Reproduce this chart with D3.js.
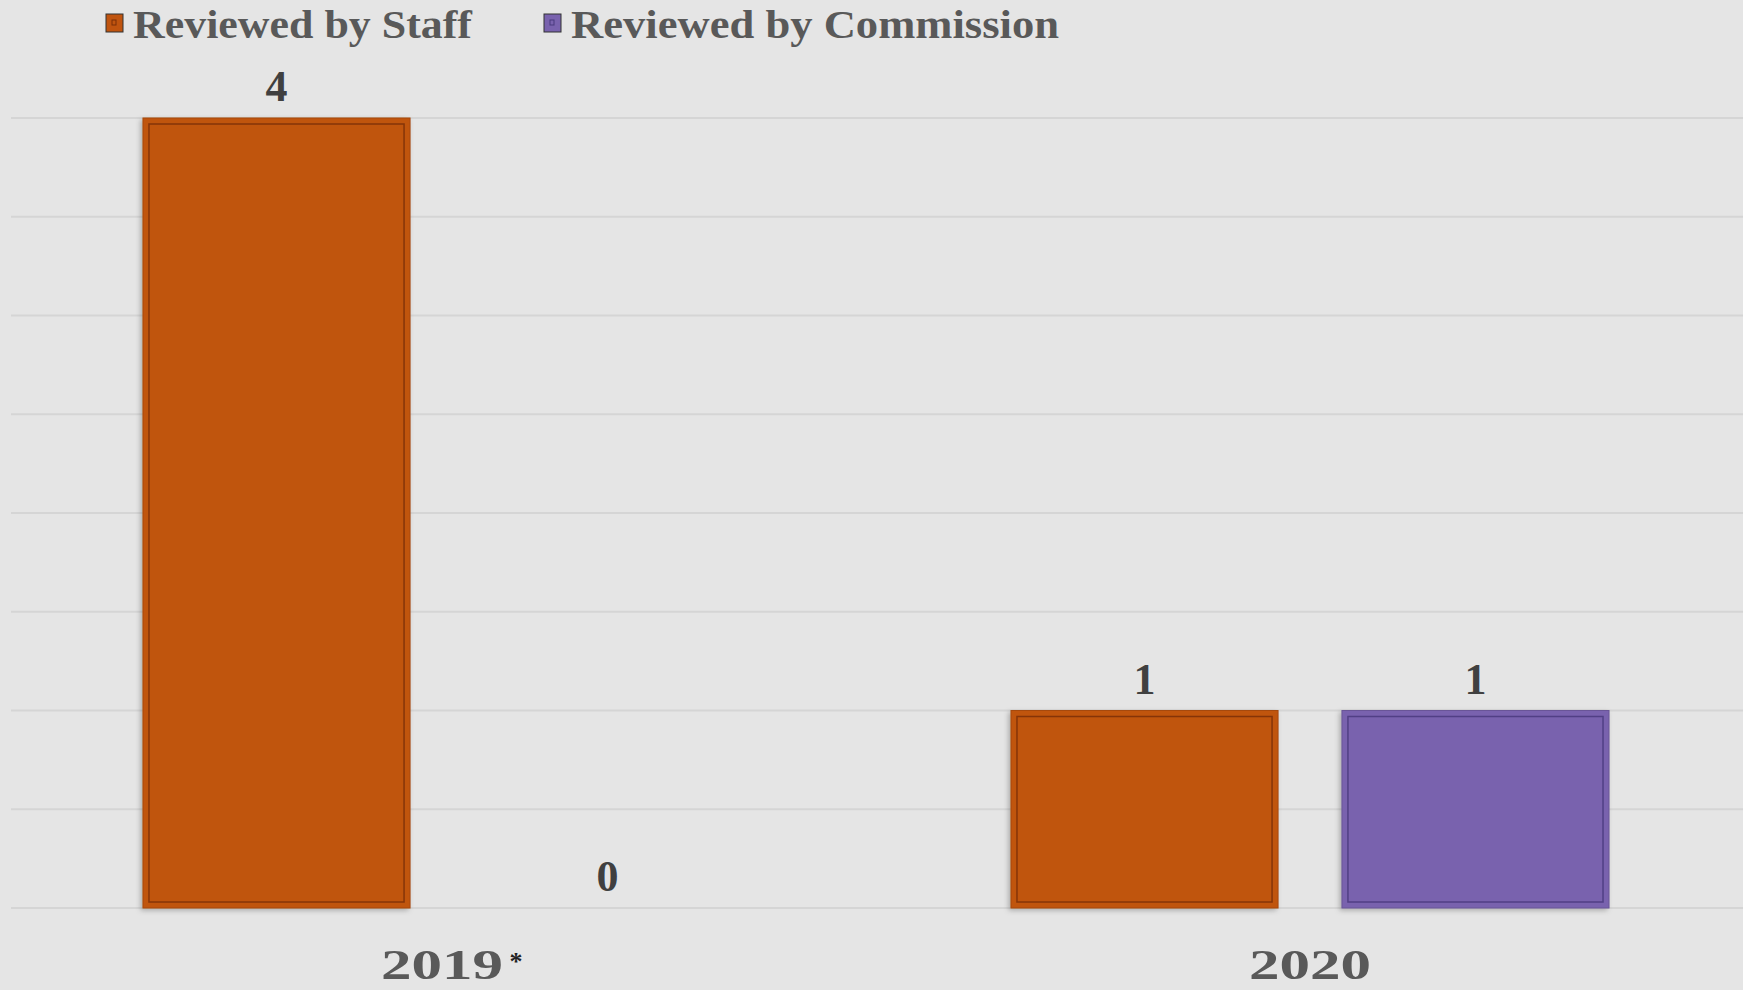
<!DOCTYPE html>
<html>
<head>
<meta charset="utf-8">
<script src="https://cdn.jsdelivr.net/npm/d3@7"></script>
<style>
  html, body { margin: 0; padding: 0; background: #E5E5E5; }
  svg { display: block; }
</style>
</head>
<body>
<svg id="chart" width="1743" height="990"></svg>
<script>
// ---- data ----
const categories = ["2019", "2020"];
const seriesNames = ["Reviewed by Staff", "Reviewed by Commission"];
const staffValues = [4, 1];
const commissionValues = [0, 1];
const yTicks = [0, 0.5, 1, 1.5, 2, 2.5, 3, 3.5, 4];
const categoryNotes = ["*", ""];

const colors = { "Reviewed by Staff": "#C0540F", "Reviewed by Commission": "#7962AE" };
const innerStroke = { "Reviewed by Staff": "#7A2F08", "Reviewed by Commission": "#4A3A7E" };

const W = 1743, H = 990;
const svg = d3.select("#chart");
svg.append("rect").attr("width", W).attr("height", H).attr("fill", "#E5E5E5");

const defs = svg.append("defs");
const f = defs.append("filter").attr("id", "shadow").attr("x", "-10%").attr("y", "-10%").attr("width", "120%").attr("height", "120%");
f.append("feDropShadow").attr("dx", -2).attr("dy", 2).attr("stdDeviation", 2.5).attr("flood-color", "#000").attr("flood-opacity", 0.25);

const plotLeft = 8, plotRight = 1744, plotTop = 118, plotBottom = 908;

const x0 = d3.scaleBand().domain(categories).range([plotLeft, plotRight]).paddingInner(0.311).paddingOuter(0.1555);
const x1 = d3.scaleBand().domain(seriesNames).range([0, x0.bandwidth()]).paddingInner(0.193).paddingOuter(0);
const y = d3.scaleLinear().domain([0, 4]).range([plotBottom, plotTop]);

// gridlines
svg.append("g").selectAll("line").data(yTicks).join("line")
  .attr("x1", 11).attr("x2", W)
  .attr("y1", d => y(d)).attr("y2", d => y(d))
  .attr("stroke", "#D5D5D5").attr("stroke-width", 2);

const rows = categories.map((c, i) => ({
  cat: c,
  vals: [
    { s: seriesNames[0], v: staffValues[i] },
    { s: seriesNames[1], v: commissionValues[i] }
  ]
}));

const g = svg.append("g").selectAll("g").data(rows).join("g")
  .attr("transform", d => `translate(${x0(d.cat)},0)`);

const bars = g.selectAll("g.bar").data(d => d.vals.filter(v => v.v > 0)).join("g").attr("class", "bar");
bars.append("rect")
  .attr("x", d => x1(d.s)).attr("y", d => y(d.v))
  .attr("width", x1.bandwidth()).attr("height", d => y(0) - y(d.v))
  .attr("fill", d => colors[d.s])
  .attr("stroke", d => d3.color(colors[d.s]).darker(0.4))
  .attr("stroke-width", 1)
  .attr("filter", "url(#shadow)");
bars.append("rect")
  .attr("x", d => x1(d.s) + 6).attr("y", d => y(d.v) + 6)
  .attr("width", x1.bandwidth() - 12).attr("height", d => y(0) - y(d.v) - 12)
  .attr("fill", "none")
  .attr("stroke", d => innerStroke[d.s]).attr("stroke-width", 1.5).attr("stroke-opacity", 0.85);

// data labels
g.selectAll("text.lbl").data(d => d.vals).join("text").attr("class", "lbl")
  .attr("x", d => x1(d.s) + x1.bandwidth() / 2)
  .attr("y", d => y(d.v) - 17)
  .attr("text-anchor", "middle")
  .attr("font-family", "'Liberation Serif', 'DejaVu Serif', serif")
  .attr("font-weight", "bold").attr("font-size", 44)
  .attr("fill", "#404040")
  .text(d => d.v);

// category labels
const catG = svg.append("g").selectAll("g").data(categories).join("g");
catG.append("text")
  .attr("x", d => x0(d) + x0.bandwidth() / 2)
  .attr("y", 979)
  .attr("text-anchor", "middle")
  .attr("font-family", "'Liberation Serif', 'DejaVu Serif', serif")
  .attr("font-weight", "bold").attr("font-size", 42)
  .attr("textLength", 122).attr("lengthAdjust", "spacingAndGlyphs")
  .attr("fill", "#595959")
  .text(d => d);
catG.append("text")
  .attr("x", d => x0(d) + x0.bandwidth() / 2 + 74)
  .attr("y", 970)
  .attr("text-anchor", "middle")
  .attr("font-family", "'Liberation Serif', 'DejaVu Serif', serif")
  .attr("font-weight", "bold").attr("font-size", 26)
  .attr("fill", "#222")
  .text((d, i) => categoryNotes[i]);

// legend
const legendX = [106, 544];
const legendW = [339, 488];
const lg = svg.append("g").selectAll("g").data(seriesNames).join("g")
  .attr("transform", (d, i) => `translate(${legendX[i]},0)`);
lg.append("rect").attr("x", 0).attr("y", 14).attr("width", 17).attr("height", 18)
  .attr("fill", d => colors[d]).attr("stroke", "#333").attr("stroke-width", 1);
lg.append("rect").attr("x", 6).attr("y", 20).attr("width", 4).attr("height", 5)
  .attr("fill", "none").attr("stroke", d => innerStroke[d]).attr("stroke-width", 1);
lg.append("text")
  .attr("x", 27).attr("y", 38)
  .attr("font-family", "'Liberation Serif', 'DejaVu Serif', serif")
  .attr("font-weight", "bold").attr("font-size", 40)
  .attr("textLength", (d, i) => legendW[i]).attr("lengthAdjust", "spacingAndGlyphs")
  .attr("fill", "#595959")
  .text(d => d);
</script>
</body>
</html>
